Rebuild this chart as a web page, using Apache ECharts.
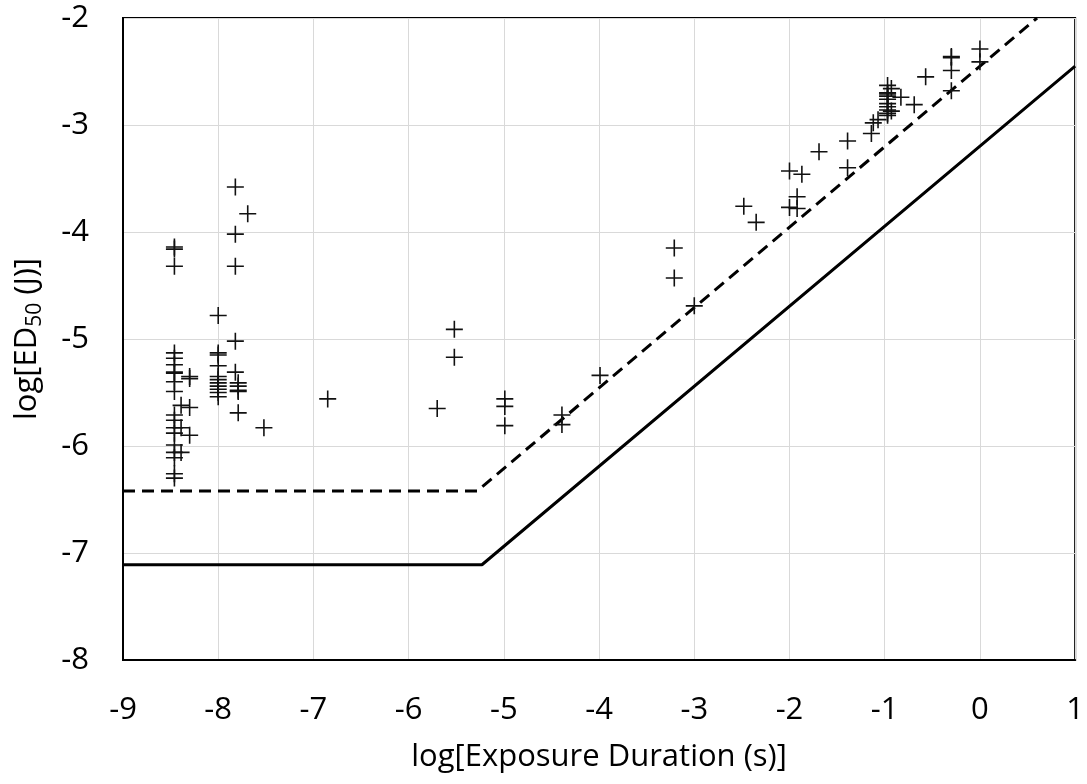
<!DOCTYPE html>
<html>
<head>
<meta charset="utf-8">
<script src="https://cdn.jsdelivr.net/npm/echarts@6/dist/echarts.min.js"></script>
<style>html,body{margin:0;padding:0;background:#fff}#c{width:1087px;height:784px}</style>
</head>
<body>
<div id="c"></div>
<script>
// log exposure duration (s) for each measured point
const pointX = [
  -8.46,-8.46,-8.46,-8.46,-8.46,-8.46,-8.46,-8.46,-8.46,-8.46,-8.46,-8.46,-8.46,-8.46,-8.46,-8.46,-8.46,-8.46,-8.46,
  -8.39,-8.39,-8.39,
  -8.30,-8.30,-8.30,-8.30,
  -8.00,-8.00,-8.00,-8.00,-8.00,-8.00,-8.00,-8.00,-8.00,-8.00,-8.00,
  -7.82,-7.82,-7.82,-7.82,-7.82,
  -7.69,
  -7.79,-7.79,-7.79,-7.79,-7.79,
  -7.52,
  -6.85,
  -5.52,-5.52,
  -5.70,
  -4.99,-4.99,-4.99,
  -4.39,-4.39,
  -3.99,
  -3.21,-3.21,
  -3.00,
  -2.48,-2.35,
  -2.00,-2.00,-1.87,-1.92,-1.92,
  -1.69,-1.39,-1.39,-1.14,-1.07,-1.12,
  -0.97,-0.97,-0.97,-0.97,-0.97,-0.97,-0.97,-0.97,-0.97,-0.97,-0.93,-0.93,
  -0.83,-0.69,-0.57,
  -0.30,-0.30,-0.30,-0.30,
  0.00,0.00
];
// log ED50 (J) for each measured point
const pointY = [
  -4.14,-4.16,-4.32,-5.13,-5.18,-5.24,-5.31,-5.32,-5.40,-5.49,-5.71,-5.76,-5.83,-5.88,-5.99,-6.06,-6.11,-6.26,-6.30,
  -5.62,-5.83,-6.06,
  -5.35,-5.37,-5.64,-5.90,
  -4.78,-5.13,-5.15,-5.25,-5.35,-5.38,-5.41,-5.44,-5.47,-5.50,-5.54,
  -3.58,-4.02,-4.32,-5.02,-5.31,
  -3.83,
  -5.41,-5.44,-5.48,-5.49,-5.69,
  -5.83,
  -5.56,
  -4.91,-5.17,
  -5.65,
  -5.56,-5.63,-5.81,
  -5.71,-5.80,
  -5.34,
  -4.15,-4.43,
  -4.69,
  -3.76,-3.91,
  -3.43,-3.77,-3.46,-3.67,-3.78,
  -3.25,-3.15,-3.40,-3.08,-2.95,-2.98,
  -2.63,-2.70,-2.71,-2.73,-2.76,-2.80,-2.83,-2.86,-2.89,-2.91,-2.66,-2.87,
  -2.74,-2.81,-2.55,
  -2.36,-2.37,-2.49,-2.68,
  -2.29,-2.41
];
// solid limit line vertices
const solidX = [-9, -5.23, 1];
const solidY = [-7.11, -7.11, -2.45];
// dashed limit line vertices
const dashX = [-9, -5.28, 0.60];
const dashY = [-6.42, -6.42, -2.0];

const xTicks = {min: -9, max: 1, interval: 1};
const yTicks = {min: -8, max: -2, interval: 1};

const pts = pointX.map((x, i) => [x, pointY[i]]);
const solid = solidX.map((x, i) => [x, solidY[i]]);
const dashed = dashX.map((x, i) => [x, dashY[i]]);

const FONT = 'Open Sans';
const chart = echarts.init(document.getElementById('c'), null, {renderer: 'canvas'});
chart.setOption({
  animation: false,
  backgroundColor: '#fff',
  grid: {left: 123, right: 9, top: 18, bottom: 124, show: true, borderColor: '#000', borderWidth: 2, backgroundColor: 'transparent'},
  xAxis: {
    type: 'value', min: xTicks.min, max: xTicks.max, interval: xTicks.interval,
    name: 'log[Exposure Duration (s)]', nameLocation: 'middle', nameGap: 82,
    nameTextStyle: {fontFamily: FONT, fontSize: 31, color: '#000'},
    axisLine: {show: true, onZero: false, lineStyle: {color: '#000', width: 2}},
    axisTick: {show: false},
    axisLabel: {fontFamily: FONT, fontSize: 31, color: '#000', margin: 35},
    splitLine: {show: true, lineStyle: {color: '#d9d9d9', width: 1}}
  },
  yAxis: {
    type: 'value', min: yTicks.min, max: yTicks.max, interval: yTicks.interval,
    name: '{a|log[ED}{s|50}{a| (J)]}', nameLocation: 'middle', nameGap: 76, nameRotate: 90,
    nameTextStyle: {
      color: '#000',
      rich: {
        a: {fontFamily: FONT, fontSize: 31, color: '#000', lineHeight: 40},
        s: {fontFamily: FONT, fontSize: 21, color: '#000', lineHeight: 40, padding: [16, 0, 0, 0]}
      }
    },
    axisLine: {show: true, onZero: false, lineStyle: {color: '#000', width: 2}},
    axisTick: {show: false},
    axisLabel: {fontFamily: FONT, fontSize: 31, color: '#000', margin: 34},
    splitLine: {show: true, lineStyle: {color: '#d9d9d9', width: 1}}
  },
  series: [
    {
      type: 'line', data: dashed, showSymbol: false, symbol: 'none', z: 3,
      lineStyle: {color: '#000', width: 3, type: [12, 7]}
    },
    {
      type: 'line', data: solid, showSymbol: false, symbol: 'none', z: 3,
      lineStyle: {color: '#000', width: 3, type: 'solid'}
    },
    {
      type: 'scatter', data: pts, z: 4,
      symbol: 'path://M7.25,0h1.5v16h-1.5z M0,7.25h16v1.5h-16z',
      symbolSize: 17,
      itemStyle: {color: '#111', opacity: 1}
    }
  ]
});
</script>
</body>
</html>
